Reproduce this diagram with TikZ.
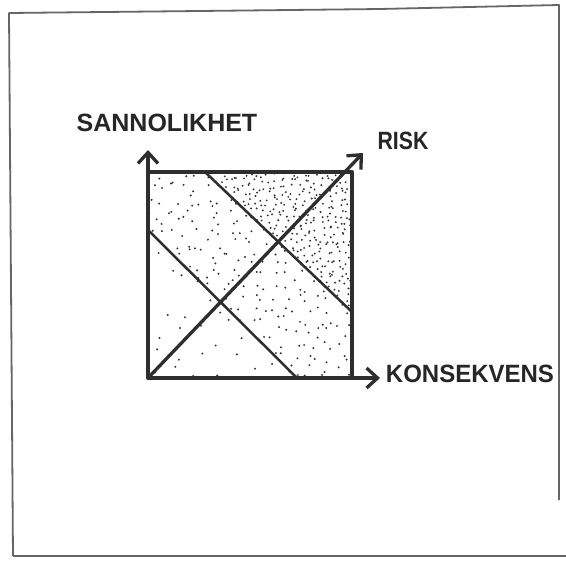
\documentclass[tikz,border=0pt]{standalone}
\usepackage{fontspec}
\setmainfont{Liberation Sans}
\usetikzlibrary{arrows.meta}
\tikzset{
  ink/.style={draw=black!82, line width=3.3pt, line cap=round, line join=round},
  thinink/.style={draw=black!82, line width=2.5pt, line cap=round},
  axisarrow/.style={ink, -{Straight Barb[length=11pt,width=20pt,line width=3.3pt]}},
  framestyle/.style={draw=black!60, line width=1.8pt, line join=round},
  lbl/.style={text=black!85, font=\bfseries\fontsize{25}{25}\selectfont, inner sep=0pt},
  dot/.style={fill=black!80}
}
\begin{document}
\begin{tikzpicture}[x=1pt,y=-1pt]
\useasboundingbox (0,0) rectangle (566,562);
\fill[white] (0,0) rectangle (566,562);
% frame
\draw[framestyle] (13,556) -- (9,13) -- (200,11) -- (380,9) -- (559,5) -- (559,500);
\draw[framestyle] (13,556) -- (566,556);
% coordinates
\coordinate (O) at (148,378);
\coordinate (TL) at (148,172);
\coordinate (TR) at (352,172);
\coordinate (BR) at (352,378);
\coordinate (A1) at (205,172);
\coordinate (A2) at (352,312);
\coordinate (B1) at (148,230);
\coordinate (B2) at (297,378);
\coordinate (Ytip) at (148,150);
\coordinate (Xtip) at (380,378);
\coordinate (Rtip) at (363,153);
% dots (jittered grids)
\pgfmathsetseed{11}
\begin{scope}
\clip (A1) -- (TR) -- (A2) -- cycle;
\foreach \x in {205,211,...,352}{\foreach \y in {172,178,...,312}{\fill[dot] ({\x+6*rnd},{\y+6*rnd}) circle (1.05pt);}}
\end{scope}
\begin{scope}
\clip (TL) -- (A1) -- (A2) -- (BR) -- (B2) -- (B1) -- cycle;
\foreach \x in {148,159,...,352}{\foreach \y in {172,183,...,378}{\fill[dot] ({\x+11*rnd},{\y+11*rnd}) circle (1.1pt);}}
\end{scope}
\begin{scope}
\clip (B1) -- (B2) -- (O) -- cycle;
\foreach \x in {148,170,...,300}{\foreach \y in {230,252,...,378}{\fill[dot] ({\x+22*rnd},{\y+22*rnd}) circle (1.1pt);}}
\end{scope}
% square
\draw[ink] (TL) -- (TR) -- (BR);
\draw[thinink] (A1) -- (A2);
\draw[thinink] (B1) -- (B2);
\draw[axisarrow] (O) -- (Ytip);
\draw[axisarrow] (O) -- (Xtip);
\draw[axisarrow] (O) -- (Rtip);
% labels
\node[lbl] (sann) at (167,123) {SANNOLIKHET};
\node[lbl, xscale=0.85] (risk) at (403,141) {RISK};
\node[lbl, xscale=0.96] (kons) at (470,374) {KONSEKVENS};
\end{tikzpicture}
\end{document}
